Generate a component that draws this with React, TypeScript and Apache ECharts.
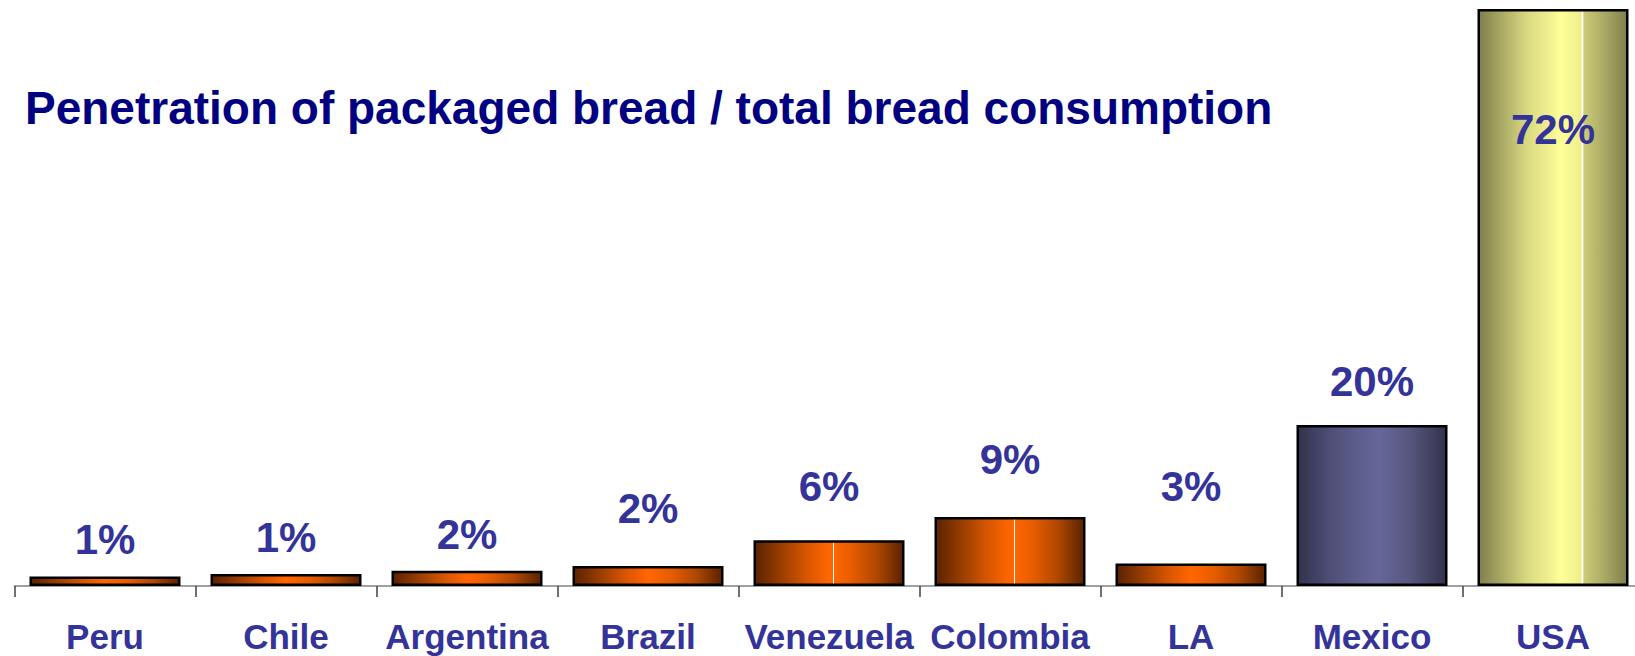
import React, { useEffect, useRef } from "react";
import * as echarts from "echarts";

// ---- data ----
const TITLE = "Penetration of packaged bread / total bread consumption";
const CATEGORIES = ["Peru", "Chile", "Argentina", "Brazil", "Venezuela", "Colombia", "LA", "Mexico", "USA"];
const PENETRATION = [1.2, 1.5, 1.9, 2.5, 5.7, 8.6, 2.8, 20.1, 72];
const VALUE_LABELS = ["1%", "1%", "2%", "2%", "6%", "9%", "3%", "20%", "72%"];

// ---- styles ----
const LABEL_LIFT = [15.7, 15.3, 15.5, 36.4, 33, 36.3, 56.3, 22, -141];
const FONT = "'Liberation Sans', Arial, Helvetica, sans-serif";
const LABEL_COLOR = "#333399";

const grad = (stops: [number, string][]) =>
  new echarts.graphic.LinearGradient(0, 0, 1, 0, stops.map(([offset, color]) => ({ offset, color })));

const orangePlain = () =>
  grad([
    [0, "#5a2200"],
    [0.18, "#9a3e00"],
    [0.35, "#d85600"],
    [0.5, "#ff6600"],
    [0.65, "#e85d00"],
    [0.82, "#b04800"],
    [1, "#5a2200"],
  ]);
const orangeLined = () =>
  grad([
    [0, "#5a2200"],
    [0.18, "#9a3e00"],
    [0.35, "#d85600"],
    [0.5, "#ff6600"],
    [0.528, "#ff6600"],
    [0.529, "#ffffff"],
    [0.535, "#ffffff"],
    [0.536, "#ff6600"],
    [0.65, "#e85d00"],
    [0.82, "#b04800"],
    [1, "#5a2200"],
  ]);
const navy = () =>
  grad([
    [0, "#32324c"],
    [0.2, "#4c4c74"],
    [0.4, "#5e5e8c"],
    [0.55, "#666699"],
    [0.75, "#57577f"],
    [1, "#32324c"],
  ]);
const yellow = () =>
  grad([
    [0, "#7f7f4c"],
    [0.15, "#a8a864"],
    [0.32, "#d8d880"],
    [0.5, "#f4f494"],
    [0.55, "#ffff99"],
    [0.69, "#eeee8c"],
    [0.695, "#ffffff"],
    [0.702, "#ffffff"],
    [0.707, "#cccc78"],
    [0.85, "#a8a864"],
    [1, "#7f7f4c"],
  ]);

const FILLS = [orangePlain, orangePlain, orangePlain, orangePlain, orangeLined, orangeLined, orangePlain, navy, yellow];

export default function App() {
  const ref = useRef<HTMLDivElement>(null);

  useEffect(() => {
    if (!ref.current) return;
    const chart = echarts.init(ref.current, undefined, { renderer: "svg" });
    const data = PENETRATION.map((v, i) => ({
      value: v,
      itemStyle: { color: FILLS[i](), borderColor: "#000000", borderWidth: 2.5 },
      label: {
        show: true,
        position: "top",
        distance: 0,
        offset: [0, -LABEL_LIFT[i]],
        formatter: () => VALUE_LABELS[i],
      },
    }));
    chart.setOption({
      animation: false,
      backgroundColor: "#ffffff",
      title: {
        text: TITLE,
        left: 20,
        top: 80,
        textStyle: { color: "#000080", fontSize: 46, fontWeight: "bold", fontFamily: FONT },
      },
      grid: { left: 14.5, top: 9, width: 1629, height: 577, containLabel: false },
      xAxis: {
        type: "category",
        data: CATEGORIES,
        axisLine: { show: true, lineStyle: { color: "#808080", width: 1.5 } },
        axisTick: { show: true, length: 11, lineStyle: { color: "#404040", width: 1.5 } },
        axisLabel: {
          interval: 0,
          margin: 33,
          color: LABEL_COLOR,
          fontSize: 35,
          fontWeight: "bold",
          fontFamily: FONT,
        },
      },
      yAxis: { type: "value", min: 0, max: 72, show: false, splitLine: { show: false } },
      series: [
        {
          type: "bar",
          barWidth: 151,
          data,
          label: {
            color: LABEL_COLOR,
            fontSize: 42,
            fontWeight: "bold",
            fontFamily: FONT,
          },
        },
      ],
    });
    return () => chart.dispose();
  }, []);

  return (
    <div
      style={{
        position: "absolute",
        left: 0,
        top: 0,
        width: 1635,
        height: 656,
        overflow: "hidden",
        background: "#ffffff",
      }}
    >
      <div ref={ref} style={{ width: 1660, height: 656 }} />
    </div>
  );
}
